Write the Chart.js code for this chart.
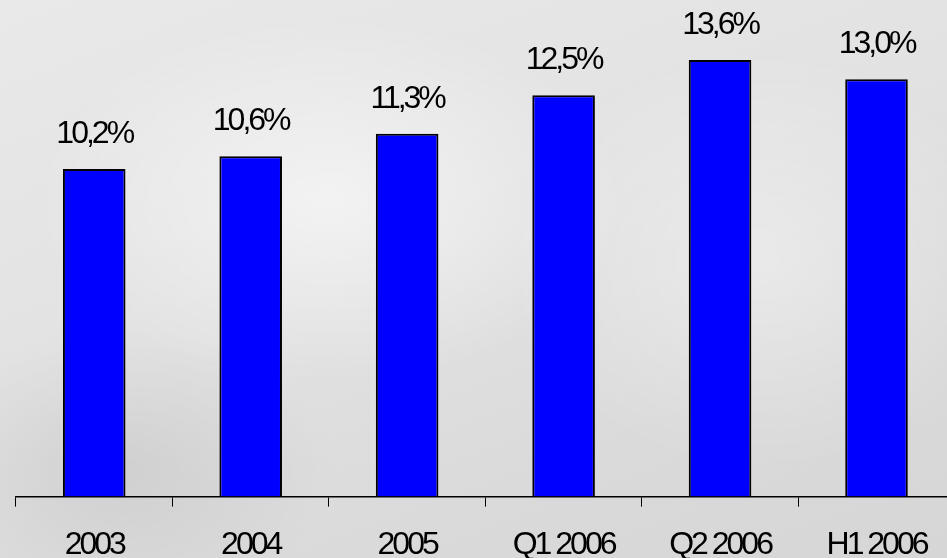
<!DOCTYPE html>
<html>
<head>
<meta charset="utf-8">
<script src="https://cdn.jsdelivr.net/npm/chart.js@4.4.1/dist/chart.umd.min.js"></script>
<style>
  html, body { margin: 0; padding: 0; overflow: hidden; }
  body {
    width: 947px; height: 558px;
    background:
      radial-gradient(ellipse 420px 260px at 330px 200px, rgba(255,255,255,0.55), rgba(255,255,255,0) 70%),
      radial-gradient(ellipse 360px 300px at 760px 260px, rgba(255,255,255,0.35), rgba(255,255,255,0) 70%),
      radial-gradient(ellipse 300px 200px at 120px 470px, rgba(180,180,180,0.35), rgba(180,180,180,0) 70%),
      linear-gradient(160deg, #e9e9e9 0%, #e2e2e2 45%, #dadada 75%, #d6d6d6 100%);
  }
  #wrap { position: absolute; left: 0; top: 0; width: 956px; height: 583px; }
</style>
</head>
<body>
<div id="wrap"><canvas id="c"></canvas></div>
<script>
const categories = ['2003', '2004', '2005', 'Q1 2006', 'Q2 2006', 'H1 2006']
const values     = [10.2, 10.6, 11.3, 12.5, 13.6, 13.0]
const valueLabels = ['10,2%', '10,6%', '11,3%', '12,5%', '13,6%', '13,0%']

const FONT = '"Liberation Sans", Arial, sans-serif'

// tight letter spacing like the original condensed Arial
const spacing = {
  id: 'spacing',
  beforeDraw(chart) { chart.ctx.letterSpacing = '-3px' },
}

const barLabels = {
  id: 'barLabels',
  afterDatasetsDraw(chart) {
    const { ctx } = chart
    const meta = chart.getDatasetMeta(0)
    ctx.save()
    ctx.letterSpacing = '-3px'
    ctx.font = '32px ' + FONT
    ctx.fillStyle = '#000'
    ctx.textAlign = 'center'
    ctx.textBaseline = 'alphabetic'
    meta.data.forEach((bar, i) => {
      ctx.fillText(valueLabels[i], bar.x, bar.y - 26)
    })
    ctx.restore()
  },
}

new Chart(document.getElementById('c'), {
  type: 'bar',
  data: {
    labels: categories,
    datasets: [{
      data: values,
      backgroundColor: '#0000ff',
      borderColor: '#000000',
      borderWidth: 2,
      borderSkipped: 'bottom',
      barPercentage: 0.4,
      categoryPercentage: 1,
    }],
  },
  options: {
    responsive: true,
    maintainAspectRatio: false,
    animation: false,
    layout: { padding: { top: 15, left: 16, right: 0, bottom: 0 } },
    plugins: { legend: { display: false }, tooltip: { enabled: false } },
    scales: {
      x: {
        grid: { display: true, drawOnChartArea: false, drawTicks: true, tickLength: 10, color: '#000', lineWidth: 1, offset: true },
        border: { display: true, color: '#000', width: 1.5 },
        ticks: { color: '#000', font: { family: FONT, size: 32 }, padding: 19, maxRotation: 0, autoSkip: false },
      },
      y: {
        display: false,
        min: 0,
        max: 15,
      },
    },
  },
  plugins: [spacing, barLabels],
})
</script>
</body>
</html>
